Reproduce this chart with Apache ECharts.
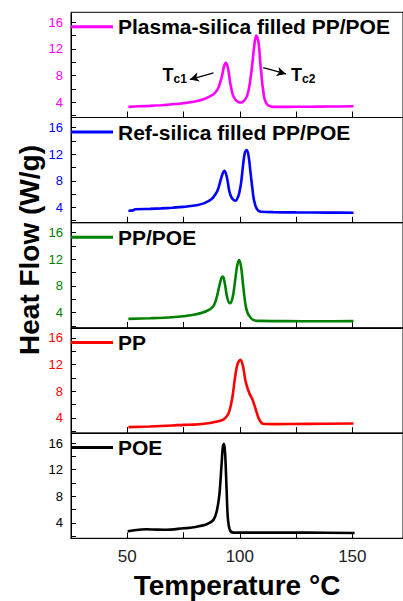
<!DOCTYPE html>
<html>
<head>
<meta charset="utf-8">
<script src="https://cdn.jsdelivr.net/npm/echarts@6/dist/echarts.min.js"></script>
<style>
  html, body { margin: 0; padding: 0; background: #fff; }
  #chart { width: 403px; height: 601px; }
</style>
</head>
<body>
<div id="chart"></div>
<script>
// panels from top to bottom
const names = ["Plasma-silica filled PP/POE", "Ref-silica filled PP/POE", "PP/POE", "PP", "POE"];
const colors = ["#ff00ff", "#0000ff", "#008000", "#ff0000", "#000000"];

// temperatures (°C) and heat flow (W/g)
const plasmaT = [50.5, 55, 60, 65, 70, 75, 80, 84, 86, 88.3, 89.5, 90.5, 91.2, 91.9, 92.5, 93.0, 93.8, 94.7, 95.6, 96.2, 96.8, 97.6, 98.5, 99.6, 100.7, 101.8, 102.9, 103.7, 104.4, 105.0, 105.6, 106.5, 107.3, 108.2, 108.7, 109.1, 109.6, 110, 110.5, 111, 111.7, 112.5, 113.5, 114.7, 120, 130, 140, 150.5];
const plasmaV = [3.3, 3.38, 3.45, 3.55, 3.68, 3.85, 4.1, 4.45, 4.75, 5.2, 5.6, 6.2, 6.9, 7.7, 8.6, 9.4, 9.9, 9.2, 7.2, 6.1, 5.2, 4.6, 4.2, 4.0, 3.95, 4.2, 4.7, 5.5, 6.7, 8.2, 9.9, 12.7, 14.0, 13.2, 11.7, 9.9, 8.2, 6.7, 5.5, 4.45, 3.9, 3.55, 3.4, 3.3, 3.3, 3.32, 3.35, 3.38];

const refT = [50.5, 52.5, 53.5, 60, 65, 70, 75, 80, 84, 87.5, 89.7, 90.5, 91.2, 92.4, 93.2, 94.1, 94.7, 95.3, 96.0, 96.8, 98.1, 99.4, 100.0, 100.6, 101.5, 102.3, 103.1, 104.0, 104.5, 105.0, 105.6, 106.2, 106.9, 107.6, 108.5, 109.5, 115, 125, 140, 150.5];
const refV = [3.5, 3.55, 3.72, 3.78, 3.85, 3.95, 4.08, 4.28, 4.6, 5.25, 6.25, 6.9, 7.75, 9.1, 9.5, 8.75, 7.7, 6.5, 5.7, 5.25, 5.0, 5.75, 6.6, 7.75, 10.5, 12.3, 12.6, 11.5, 10.0, 8.5, 6.8, 5.25, 4.3, 3.75, 3.45, 3.35, 3.28, 3.25, 3.22, 3.2];

const blendT = [50.5, 60, 70, 75, 80, 85.3, 88.3, 89.7, 90.3, 90.9, 91.9, 92.5, 93.4, 94.4, 95.6, 96.8, 97.8, 98.8, 99.7, 100.6, 101.5, 102.5, 103.2, 104, 105.9, 108.8, 120, 135, 150.5];
const blendV = [3.05, 3.15, 3.3, 3.45, 3.7, 4.24, 5.0, 6.25, 7.1, 8.0, 9.25, 9.4, 8.25, 6.25, 5.4, 6.25, 8.5, 11.0, 11.9, 10.8, 8.0, 5.25, 4.2, 3.6, 2.9, 2.75, 2.72, 2.7, 2.72];

const ppT = [50.5, 60, 70, 75, 79.4, 85, 88.3, 92.7, 94.9, 96.3, 97.1, 97.8, 99, 100.3, 101.5, 102.6, 104.1, 105.6, 107, 108.5, 110.3, 115, 130, 150.5];
const ppV = [2.6, 2.7, 2.85, 2.94, 2.98, 3.15, 3.33, 3.74, 4.6, 6.35, 8.0, 9.87, 12.1, 12.7, 11.6, 9.4, 7.8, 6.75, 5.35, 3.84, 3.1, 3.05, 3.08, 3.14];

const poeT = [50.2, 54, 58.3, 63, 67, 75, 79.4, 85.3, 88.3, 89.7, 90.9, 91.8, 92.5, 93.0, 93.5, 94.1, 94.7, 95.6, 97.1, 110, 130, 151];
const poeV = [2.75, 2.95, 3.05, 3.0, 2.98, 3.2, 3.35, 3.8, 4.46, 5.7, 8.2, 12.3, 15.55, 15.9, 14.3, 9.25, 4.7, 2.95, 2.55, 2.55, 2.55, 2.5];

const xTicks = [50, 75, 100, 125, 150];
const xLabels = [50, 100, 150];
const yTicks = [2, 4, 6, 8, 10, 12, 14, 16];
const yLabels = [4, 8, 12, 16];

const curves = [[plasmaT, plasmaV], [refT, refV], [blendT, blendV], [ppT, ppV], [poeT, poeV]];

const font = "'Liberation Sans', Arial, sans-serif";
const panelTop = 12.3;
const panelH = 105.2;
const chart = echarts.init(document.getElementById("chart"), null, { renderer: "svg" });

const grids = [], xAxes = [], yAxes = [], series = [], legends = [];
names.forEach((name, i) => {
  const top = panelTop + i * panelH;
  grids.push({ left: 71, top: top, width: 335, height: panelH, show: true, borderColor: "#000", borderWidth: 1, backgroundColor: "transparent" });
  const last = i === names.length - 1;
  xAxes.push({
    type: "value", gridIndex: i, min: 25, max: 172.5,
    axisLine: { show: true, lineStyle: { color: "#000", width: 1 } },
    axisTick: { show: true, inside: true, length: 6, customValues: xTicks, lineStyle: { color: "#000" } },
    axisLabel: { show: last, customValues: xLabels, fontSize: 17, color: "#222", fontFamily: font, margin: 10 },
    splitLine: { show: false },
    name: last ? "Temperature °C" : "", nameLocation: "middle", nameGap: 33,
    nameTextStyle: { fontSize: 28, fontWeight: "bold", color: "#000", fontFamily: font }
  });
  yAxes.push({
    type: "value", gridIndex: i, min: 1.7, max: 17.5,
    axisLine: { show: true, lineStyle: { color: "#000", width: 1 } },
    axisTick: { show: true, inside: true, length: 5, customValues: yTicks, lineStyle: { color: "#000" } },
    axisLabel: { customValues: yLabels, fontSize: 13, color: colors[i], fontFamily: font, margin: 8 },
    splitLine: { show: false }
  });
  const [ts, vs] = curves[i];
  series.push({
    name: name, type: "line", xAxisIndex: i, yAxisIndex: i,
    data: ts.map((t, k) => [t, vs[k]]),
    showSymbol: false, smooth: 0.35,
    lineStyle: { color: colors[i], width: 2.6 },
    itemStyle: { color: colors[i] },
    z: 3
  });
  legends.push({
    data: [name], left: 71, top: top + 4, padding: 0,
    icon: "rect", itemWidth: 42, itemHeight: 3, selectedMode: false,
    textStyle: { fontSize: 21, fontWeight: "bold", color: "#000", fontFamily: font }
  });
});
// Tc annotations on the top panel
const arrowStyle = { color: "#000", width: 1.2, type: "solid" };
series[0].markLine = {
  silent: true, symbol: ["none", "arrow"], symbolSize: [7, 9],
  lineStyle: arrowStyle, label: { show: false },
  data: [
    [{ coord: [88.3, 8.4] }, { coord: [77.8, 7.4] }],
    [{ coord: [110.4, 9.2] }, { coord: [120.5, 8.25] }]
  ]
};
const rich = {
  t: { fontSize: 18, fontWeight: "bold", color: "#000", fontFamily: font },
  s: { fontSize: 12, fontWeight: "bold", color: "#000", fontFamily: font, padding: [9, 0, 0, 0] }
};
series[0].markPoint = {
  silent: true, symbol: "circle", symbolSize: 0,
  label: { show: true, position: "inside", rich: rich },
  data: [
    { coord: [71.1, 8.1], label: { formatter: "{t|T}{s|c1}" } },
    { coord: [128.2, 8.1], label: { formatter: "{t|T}{s|c2}" } }
  ]
};

chart.setOption({
  animation: false,
  backgroundColor: "#fff",
  grid: grids,
  xAxis: xAxes,
  yAxis: yAxes,
  legend: legends,
  series: series,
  graphic: [{
    type: "text", x: 29, y: 250, rotation: Math.PI / 2,
    style: { text: "Heat Flow (W/g)", font: "bold 28px " + font, fill: "#000", align: "center", verticalAlign: "middle" }
  }]
});
</script>
</body>
</html>
